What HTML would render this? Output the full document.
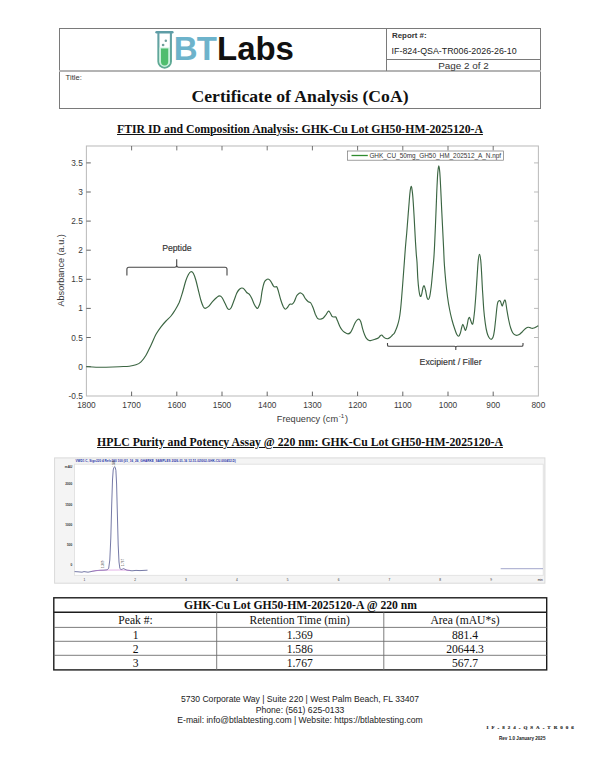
<!DOCTYPE html>
<html><head><meta charset="utf-8"><title>Certificate of Analysis</title>
<style>
html,body{margin:0;padding:0;background:#fff;}
body{width:600px;height:776px;position:relative;overflow:hidden;font-family:"Liberation Sans",sans-serif;color:#222;}
.abs{position:absolute;white-space:nowrap;}
.ln{position:absolute;background:#7a7a7a;}
.serif{font-family:"Liberation Serif",serif;}
.h2{font-family:"Liberation Serif",serif;font-weight:bold;font-size:11.75px;color:#111;text-decoration:underline;text-decoration-thickness:1px;text-underline-offset:1.2px;line-height:14px;}
svg text{font-family:"Liberation Sans",sans-serif;}
.tl{font-size:8.3px;fill:#3a3a3a;}
svg .tb text{font-family:"Liberation Serif",serif;}
</style></head><body>

<!-- header frame -->
<div class="ln" style="left:59px;top:28px;width:482px;height:1px;"></div>
<div class="ln" style="left:59px;top:108px;width:482px;height:1px;"></div>
<div class="ln" style="left:59px;top:28px;width:1px;height:81px;"></div>
<div class="ln" style="left:540px;top:28px;width:1px;height:81px;"></div>
<div class="ln" style="left:59px;top:70px;width:482px;height:2px;background:#b4b4b4;"></div>
<div class="ln" style="left:386px;top:28px;width:1px;height:43px;"></div>
<div class="ln" style="left:386px;top:59px;width:155px;height:1px;"></div>

<!-- logo -->
<svg class="abs" style="left:150px;top:27px;" width="32" height="46" viewBox="150 27 32 46">
  <defs><linearGradient id="tg" x1="0" y1="0" x2="0" y2="1"><stop offset="0" stop-color="#649fa8"/><stop offset="1" stop-color="#5eab92"/></linearGradient></defs>
  <path d="M158.4 33 V61.4 A6.25 6.25 0 0 0 170.9 61.4 V33" fill="#fff" stroke="url(#tg)" stroke-width="2.1"/>
  <path d="M159.4 47.6 H169.9 V61.4 A5.25 5.25 0 0 1 159.4 61.4 Z" fill="#c9f2dc"/>
  <path d="M161 48.6 H168.2 V61.8 A3.6 3.6 0 0 1 161 61.8 Z" fill="#4fbd6e"/>
  <rect x="155.3" y="31" width="18.3" height="2.5" rx="1.25" fill="#5e9da6"/>
  <circle cx="165.8" cy="40.8" r="1.25" fill="#6f9f9a"/>
  <circle cx="163.1" cy="45" r="1.35" fill="#6f9f9a"/>
</svg>
<div class="abs" id="bt" style="left:173.8px;top:30.6px;font-weight:bold;font-size:33px;line-height:36px;color:#6db3cb;letter-spacing:-0.8px;">BT</div>
<div class="abs" id="labs" style="left:217.1px;top:30.6px;font-weight:bold;font-size:33px;line-height:36px;color:#111;letter-spacing:-0.1px;">Labs</div>

<!-- header text -->
<div class="abs" id="rep" style="left:392px;top:30.7px;font-weight:bold;font-size:7.9px;line-height:9px;color:#333;">Report #:</div>
<div class="abs" id="repno" style="left:391.6px;top:46.2px;font-size:8.87px;line-height:10px;color:#222;">IF-824-QSA-TR006-2026-26-10</div>
<div class="abs" id="pg" style="left:387px;width:153px;text-align:center;top:60.1px;font-size:9.9px;line-height:11px;color:#333;">Page 2 of 2</div>
<div class="abs" id="ttl" style="left:65.6px;top:72.5px;font-size:7.6px;line-height:9px;color:#333;">Title:</div>
<div class="abs serif" id="coa" style="left:0;width:600px;text-align:center;top:85.9px;font-weight:bold;font-size:17.65px;line-height:20px;color:#111;">Certificate of Analysis (CoA)</div>

<!-- section headings -->
<div class="abs h2" id="h1" style="left:0;width:600px;text-align:center;top:122.8px;">FTIR ID and Composition Analysis: GHK-Cu Lot GH50-HM-2025120-A</div>
<div class="abs h2" id="h2" style="left:0;width:600px;text-align:center;top:435.8px;">HPLC Purity and Potency Assay @ 220 nm: GHK-Cu Lot GH50-HM-2025120-A</div>

<!-- charts -->
<svg class="abs" style="left:0;top:0;" width="600" height="776" viewBox="0 0 600 776">
  <!-- FTIR frame -->
  <rect x="86.4" y="146.0" width="452.0" height="250.0" fill="none" stroke="#bcbcbc" stroke-width="1.05"/>
  <line x1="131.6" y1="396.0" x2="131.6" y2="391.6" stroke="#4a4a4a" stroke-width="0.85"/><line x1="131.6" y1="146.0" x2="131.6" y2="150.4" stroke="#5a5a5a" stroke-width="0.85"/><line x1="176.8" y1="396.0" x2="176.8" y2="391.6" stroke="#4a4a4a" stroke-width="0.85"/><line x1="176.8" y1="146.0" x2="176.8" y2="150.4" stroke="#5a5a5a" stroke-width="0.85"/><line x1="222.0" y1="396.0" x2="222.0" y2="391.6" stroke="#4a4a4a" stroke-width="0.85"/><line x1="222.0" y1="146.0" x2="222.0" y2="150.4" stroke="#5a5a5a" stroke-width="0.85"/><line x1="267.2" y1="396.0" x2="267.2" y2="391.6" stroke="#4a4a4a" stroke-width="0.85"/><line x1="267.2" y1="146.0" x2="267.2" y2="150.4" stroke="#5a5a5a" stroke-width="0.85"/><line x1="312.4" y1="396.0" x2="312.4" y2="391.6" stroke="#4a4a4a" stroke-width="0.85"/><line x1="312.4" y1="146.0" x2="312.4" y2="150.4" stroke="#5a5a5a" stroke-width="0.85"/><line x1="357.6" y1="396.0" x2="357.6" y2="391.6" stroke="#4a4a4a" stroke-width="0.85"/><line x1="357.6" y1="146.0" x2="357.6" y2="150.4" stroke="#5a5a5a" stroke-width="0.85"/><line x1="402.8" y1="396.0" x2="402.8" y2="391.6" stroke="#4a4a4a" stroke-width="0.85"/><line x1="402.8" y1="146.0" x2="402.8" y2="150.4" stroke="#5a5a5a" stroke-width="0.85"/><line x1="448.0" y1="396.0" x2="448.0" y2="391.6" stroke="#4a4a4a" stroke-width="0.85"/><line x1="448.0" y1="146.0" x2="448.0" y2="150.4" stroke="#5a5a5a" stroke-width="0.85"/><line x1="493.2" y1="396.0" x2="493.2" y2="391.6" stroke="#4a4a4a" stroke-width="0.85"/><line x1="493.2" y1="146.0" x2="493.2" y2="150.4" stroke="#5a5a5a" stroke-width="0.85"/><line x1="86.4" y1="366.6" x2="90.80000000000001" y2="366.6" stroke="#4a4a4a" stroke-width="0.85"/><line x1="538.4" y1="366.6" x2="534.0" y2="366.6" stroke="#b0b0b0" stroke-width="0.85"/><line x1="86.4" y1="337.5" x2="90.80000000000001" y2="337.5" stroke="#4a4a4a" stroke-width="0.85"/><line x1="538.4" y1="337.5" x2="534.0" y2="337.5" stroke="#b0b0b0" stroke-width="0.85"/><line x1="86.4" y1="308.4" x2="90.80000000000001" y2="308.4" stroke="#4a4a4a" stroke-width="0.85"/><line x1="538.4" y1="308.4" x2="534.0" y2="308.4" stroke="#b0b0b0" stroke-width="0.85"/><line x1="86.4" y1="279.3" x2="90.80000000000001" y2="279.3" stroke="#4a4a4a" stroke-width="0.85"/><line x1="538.4" y1="279.3" x2="534.0" y2="279.3" stroke="#b0b0b0" stroke-width="0.85"/><line x1="86.4" y1="250.2" x2="90.80000000000001" y2="250.2" stroke="#4a4a4a" stroke-width="0.85"/><line x1="538.4" y1="250.2" x2="534.0" y2="250.2" stroke="#b0b0b0" stroke-width="0.85"/><line x1="86.4" y1="221.1" x2="90.80000000000001" y2="221.1" stroke="#4a4a4a" stroke-width="0.85"/><line x1="538.4" y1="221.1" x2="534.0" y2="221.1" stroke="#b0b0b0" stroke-width="0.85"/><line x1="86.4" y1="192.0" x2="90.80000000000001" y2="192.0" stroke="#4a4a4a" stroke-width="0.85"/><line x1="538.4" y1="192.0" x2="534.0" y2="192.0" stroke="#b0b0b0" stroke-width="0.85"/><line x1="86.4" y1="162.9" x2="90.80000000000001" y2="162.9" stroke="#4a4a4a" stroke-width="0.85"/><line x1="538.4" y1="162.9" x2="534.0" y2="162.9" stroke="#b0b0b0" stroke-width="0.85"/>
  <text x="82.8" y="398.7" text-anchor="end" class="tl">-0.5</text><text x="82.8" y="369.6" text-anchor="end" class="tl">0</text><text x="82.8" y="340.5" text-anchor="end" class="tl">0.5</text><text x="82.8" y="311.4" text-anchor="end" class="tl">1</text><text x="82.8" y="282.3" text-anchor="end" class="tl">1.5</text><text x="82.8" y="253.2" text-anchor="end" class="tl">2</text><text x="82.8" y="224.1" text-anchor="end" class="tl">2.5</text><text x="82.8" y="195.0" text-anchor="end" class="tl">3</text><text x="82.8" y="165.9" text-anchor="end" class="tl">3.5</text><text x="86.4" y="407.5" text-anchor="middle" class="tl">1800</text><text x="131.6" y="407.5" text-anchor="middle" class="tl">1700</text><text x="176.8" y="407.5" text-anchor="middle" class="tl">1600</text><text x="222.0" y="407.5" text-anchor="middle" class="tl">1500</text><text x="267.2" y="407.5" text-anchor="middle" class="tl">1400</text><text x="312.4" y="407.5" text-anchor="middle" class="tl">1300</text><text x="357.6" y="407.5" text-anchor="middle" class="tl">1200</text><text x="402.8" y="407.5" text-anchor="middle" class="tl">1100</text><text x="448.0" y="407.5" text-anchor="middle" class="tl">1000</text><text x="493.2" y="407.5" text-anchor="middle" class="tl">900</text><text x="538.4" y="407.5" text-anchor="middle" class="tl">800</text>
  <text transform="translate(63.8,270.4) rotate(-90)" text-anchor="middle" font-size="9.1" fill="#3a3a3a">Absorbance (a.u.)</text>
  <text x="276.8" y="422" font-size="9.2" fill="#3a3a3a">Frequency (cm<tspan dx="0.6" dy="-3.6" font-size="6.2">-1</tspan><tspan dx="0.7" dy="3.6">)</tspan></text>
  <!-- legend -->
  <rect x="347.4" y="151" width="156" height="9.2" fill="#fff" stroke="#777" stroke-width="0.7"/>
  <line x1="351.5" y1="155.5" x2="367.8" y2="155.5" stroke="#2e8b2e" stroke-width="1.3"/>
  <text x="369.4" y="157.8" font-size="6.42" fill="#333">GHK_CU_50mg_GH50_HM_202512_A_N.npf</text>
  <!-- curve -->
  <path d="M86.4 366.6C88.0 366.7 92.7 367.1 96.0 367.2C99.3 367.3 102.1 367.3 106.0 367.2C109.9 367.1 115.4 366.9 119.3 366.7C123.2 366.5 126.5 366.5 129.3 366.2C132.1 365.9 134.1 365.5 136.0 364.8C137.9 364.1 139.3 363.4 141.0 361.8C142.7 360.2 144.3 358.0 146.0 355.2C147.7 352.4 149.3 348.7 151.0 345.2C152.7 341.7 154.3 337.4 156.0 334.3C157.7 331.2 159.3 329.0 161.0 326.8C162.7 324.6 164.3 322.8 166.0 321.0C167.7 319.2 169.5 317.8 171.0 316.0C172.5 314.2 173.6 312.4 175.0 310.2C176.4 307.9 177.9 305.4 179.2 302.5C180.4 299.6 181.4 296.1 182.5 292.5C183.6 288.9 184.8 283.8 185.8 280.8C186.8 277.8 187.5 276.2 188.3 274.7C189.1 273.2 190.0 271.9 190.8 271.7C191.6 271.5 192.5 271.9 193.3 273.3C194.1 274.7 195.0 277.2 195.8 280.0C196.6 282.8 197.5 286.7 198.3 290.0C199.1 293.3 200.0 297.2 200.8 300.0C201.6 302.8 202.6 305.3 203.3 306.7C204.1 308.1 204.5 308.3 205.3 308.3C206.1 308.3 207.1 307.8 208.3 306.7C209.5 305.6 211.1 303.2 212.5 301.7C213.9 300.2 215.5 298.5 216.7 297.5C217.9 296.5 218.6 295.8 219.5 295.8C220.4 295.8 221.1 296.2 222.0 297.5C222.9 298.8 224.1 301.5 225.0 303.3C225.9 305.1 226.8 307.3 227.5 308.3C228.2 309.3 228.6 309.6 229.2 309.5C229.8 309.4 230.5 309.1 231.3 307.5C232.1 305.9 233.3 302.4 234.2 300.0C235.1 297.6 235.9 295.1 236.7 293.3C237.5 291.6 238.4 290.4 239.2 289.5C240.0 288.6 240.9 288.1 241.7 288.0C242.5 287.9 243.4 288.4 244.2 289.2C245.0 289.9 245.9 291.7 246.7 292.5C247.5 293.3 248.4 293.2 249.2 294.2C250.0 295.2 250.9 296.6 251.7 298.3C252.5 300.0 253.4 302.6 254.2 304.2C255.0 305.8 256.0 307.4 256.7 308.0C257.4 308.6 257.7 308.6 258.3 307.5C258.9 306.4 259.9 304.3 260.5 301.7C261.1 299.1 261.4 294.9 262.0 291.7C262.6 288.5 263.4 284.5 264.2 282.5C265.0 280.5 265.9 280.1 266.7 279.5C267.4 278.9 268.0 278.9 268.7 279.2C269.4 279.5 270.0 280.2 270.8 281.3C271.6 282.4 272.6 284.9 273.3 285.8C274.0 286.8 274.4 286.9 275.0 287.0C275.6 287.1 276.1 286.1 276.7 286.7C277.2 287.3 277.6 288.6 278.3 290.8C279.0 293.0 280.0 297.4 280.8 300.0C281.6 302.6 282.6 305.2 283.3 306.7C284.1 308.2 284.6 309.1 285.3 309.2C286.0 309.3 286.8 308.3 287.5 307.5C288.2 306.7 288.9 304.8 289.7 304.2C290.4 303.6 291.2 304.6 292.0 304.2C292.8 303.8 293.4 303.1 294.2 301.7C295.0 300.3 295.9 297.2 296.7 295.8C297.5 294.4 298.5 293.8 299.2 293.3C299.9 292.8 300.2 292.8 300.8 293.0C301.4 293.2 302.2 293.7 303.0 294.7C303.8 295.7 304.9 298.0 305.8 299.2C306.7 300.4 307.5 301.1 308.3 301.7C309.1 302.3 310.0 302.0 310.8 303.0C311.6 304.0 312.2 305.6 313.0 307.5C313.8 309.4 314.6 312.4 315.3 314.2C316.1 316.0 316.7 317.5 317.5 318.3C318.3 319.1 319.1 319.2 320.0 319.2C320.9 319.2 322.0 319.0 323.0 318.3C324.0 317.6 324.9 316.2 325.8 315.0C326.7 313.8 327.6 311.6 328.3 311.2C329.0 310.8 329.4 311.6 330.0 312.5C330.6 313.4 331.3 315.6 332.0 316.3C332.7 317.1 333.6 316.9 334.2 317.0C334.8 317.1 335.2 316.4 335.8 317.0C336.4 317.6 336.8 319.2 337.5 320.8C338.2 322.4 339.2 325.1 340.0 326.7C340.8 328.3 341.7 329.5 342.5 330.5C343.3 331.5 344.1 331.9 345.0 332.5C345.9 333.1 347.1 333.8 348.0 333.8C348.9 333.8 349.8 333.3 350.5 332.5C351.2 331.7 351.8 330.4 352.5 328.8C353.2 327.2 354.2 324.5 355.0 323.0C355.8 321.5 356.8 320.2 357.5 319.6C358.2 319.0 358.6 318.9 359.2 319.2C359.8 319.5 360.2 320.2 360.8 321.7C361.4 323.2 361.9 326.1 362.5 328.3C363.1 330.5 364.0 333.3 364.7 335.0C365.4 336.7 365.9 337.8 366.7 338.7C367.4 339.6 368.4 340.2 369.2 340.5C370.0 340.8 370.7 340.5 371.7 340.3C372.7 340.1 373.9 339.6 375.0 339.2C376.1 338.8 377.4 338.6 378.3 338.0C379.2 337.4 379.7 336.3 380.3 335.8C380.9 335.3 381.2 334.9 381.7 335.0C382.2 335.1 382.7 336.1 383.3 336.7C383.9 337.2 384.6 338.0 385.3 338.3C386.0 338.6 386.7 338.8 387.5 338.7C388.3 338.6 389.2 338.1 390.0 337.5C390.8 336.9 391.8 335.7 392.5 335.0C393.2 334.3 393.6 334.2 394.2 333.4C394.8 332.6 395.2 331.3 395.8 330.0C396.4 328.7 396.9 327.4 397.5 325.5C398.1 323.6 398.8 321.1 399.3 318.5C399.8 315.9 400.1 313.6 400.5 310.0C400.9 306.4 401.3 301.7 401.7 296.7C402.1 291.7 402.6 285.4 403.0 280.0C403.4 274.6 403.8 269.2 404.2 264.0C404.6 258.8 404.9 254.1 405.3 249.0C405.7 243.9 406.2 238.7 406.7 233.3C407.1 227.9 407.6 222.0 408.0 216.7C408.4 211.4 408.9 205.7 409.2 201.7C409.5 197.7 409.7 195.1 410.0 192.5C410.3 189.9 410.8 186.4 411.2 186.3C411.6 186.2 411.9 188.9 412.3 191.7C412.7 194.5 413.0 198.6 413.3 203.3C413.6 208.0 414.0 214.4 414.3 220.0C414.6 225.6 414.9 231.5 415.2 237.0C415.5 242.5 415.9 248.8 416.2 253.0C416.5 257.2 416.7 257.8 417.0 262.0C417.3 266.2 417.5 273.6 417.8 278.3C418.1 283.0 418.5 287.0 418.9 290.0C419.3 293.0 419.8 295.6 420.3 296.3C420.8 297.0 421.2 295.7 421.7 294.2C422.1 292.7 422.6 288.9 423.0 287.5C423.4 286.1 423.8 285.4 424.2 285.8C424.6 286.2 425.0 288.1 425.5 290.0C426.0 291.9 426.5 295.9 427.0 297.5C427.5 299.1 427.9 299.6 428.3 299.5C428.8 299.4 429.2 298.8 429.7 296.7C430.2 294.6 430.7 290.6 431.2 286.7C431.7 282.8 432.1 277.8 432.5 273.3C432.9 268.9 433.3 264.7 433.7 260.0C434.1 255.3 434.3 250.6 434.6 245.0C434.9 239.4 435.1 233.1 435.4 226.7C435.7 220.3 435.9 213.4 436.2 206.7C436.5 200.0 436.7 192.4 437.0 186.7C437.3 181.0 437.5 176.0 437.8 172.5C438.1 169.0 438.5 165.8 438.8 165.8C439.1 165.8 439.5 168.8 439.8 172.5C440.1 176.2 440.4 182.1 440.7 188.3C441.0 194.6 441.4 203.1 441.7 210.0C442.0 216.9 442.4 223.7 442.7 230.0C443.0 236.3 443.3 242.2 443.6 248.0C443.9 253.8 444.0 259.4 444.4 265.0C444.8 270.6 445.3 276.4 445.8 281.7C446.3 287.0 446.9 292.0 447.5 296.7C448.1 301.4 448.9 306.1 449.7 310.0C450.4 313.9 451.2 316.9 452.0 320.0C452.8 323.1 453.7 325.9 454.5 328.3C455.3 330.7 456.0 332.9 456.7 334.2C457.4 335.5 458.1 336.3 458.7 336.2C459.3 336.1 459.8 334.8 460.3 333.3C460.8 331.9 461.3 329.0 461.7 327.5C462.1 326.0 462.4 324.2 462.8 324.2C463.2 324.2 463.8 326.5 464.2 327.5C464.6 328.5 465.0 330.6 465.5 330.3C466.0 330.0 466.5 327.7 467.0 325.8C467.5 323.9 467.9 320.6 468.3 319.2C468.7 317.8 469.1 317.2 469.5 317.5C469.9 317.8 470.4 319.7 470.8 320.8C471.2 321.9 471.8 324.1 472.2 324.2C472.6 324.3 472.9 324.1 473.3 321.7C473.7 319.3 474.2 314.7 474.7 310.0C475.1 305.3 475.6 299.1 476.0 293.3C476.4 287.5 476.8 280.6 477.2 275.0C477.6 269.4 477.9 263.5 478.3 260.0C478.7 256.5 479.1 254.2 479.5 254.2C479.9 254.2 480.3 256.5 480.7 260.0C481.1 263.5 481.4 269.4 481.7 275.0C482.0 280.6 482.3 287.5 482.7 293.3C483.1 299.1 483.4 305.0 483.8 310.0C484.2 315.0 484.8 319.6 485.3 323.3C485.8 327.1 486.4 330.2 487.0 332.5C487.6 334.8 488.1 335.9 488.7 337.0C489.3 338.1 490.2 339.2 490.9 339.3C491.6 339.4 492.4 338.7 493.0 337.3C493.6 335.9 494.0 333.6 494.4 330.7C494.8 327.8 495.2 323.6 495.6 320.0C496.0 316.4 496.4 312.2 496.7 309.3C497.0 306.4 497.3 304.1 497.7 302.7C498.1 301.3 498.6 300.9 499.0 300.7C499.4 300.5 500.0 300.6 500.4 301.3C500.8 302.0 501.3 303.9 501.6 304.7C501.9 305.5 502.1 306.2 502.4 306.0C502.7 305.8 502.9 304.3 503.3 303.3C503.7 302.3 504.3 300.2 504.7 300.0C505.1 299.8 505.3 300.2 505.7 302.0C506.1 303.8 506.5 307.7 507.0 310.7C507.5 313.7 508.1 317.1 508.7 320.0C509.3 322.9 510.0 325.9 510.7 328.0C511.4 330.1 511.9 331.5 512.7 332.7C513.5 333.9 514.5 334.6 515.3 335.0C516.1 335.4 516.5 335.5 517.3 335.3C518.1 335.1 519.1 334.7 520.0 334.0C520.9 333.3 521.8 332.2 522.7 331.3C523.6 330.4 524.4 329.4 525.3 328.7C526.2 328.0 527.2 327.5 528.0 327.3C528.8 327.1 529.3 327.4 530.0 327.6C530.7 327.8 531.3 328.2 532.0 328.3C532.7 328.4 533.3 328.2 534.0 328.0C534.7 327.8 535.3 327.4 536.0 327.0C536.7 326.6 537.9 325.9 538.3 325.7" fill="none" stroke="#3b6542" stroke-width="1.15" stroke-linejoin="round"/>
  <!-- peptide brace -->
  <path d="M126.9 275.5 V269.3 Q126.9 267.3 128.9 267.3 H174.9 Q176.7 267.3 176.7 265.3 V259.3 M176.7 265.3 Q176.7 267.3 178.5 267.3 H225 Q227 267.3 227 269.3 V275.5" fill="none" stroke="#444" stroke-width="1.1"/>
  <text x="176.9" y="251" text-anchor="middle" font-size="8.7" fill="#333" stroke="#333" stroke-width="0.15">Peptide</text>
  <!-- excipient brace -->
  <path d="M387.5 343 V345 Q387.5 346.3 388.8 346.3 H454.5 Q455.8 346.3 455.8 347.6 V350 M455.8 347.6 Q455.8 346.3 457.1 346.3 H521.7 Q523 346.3 523 345 V343" fill="none" stroke="#444" stroke-width="1.1"/>
  <text x="450.6" y="365" text-anchor="middle" font-size="8.8" fill="#333" stroke="#333" stroke-width="0.15">Excipient / Filler</text>

  <!-- HPLC -->
  <rect x="54.6" y="457.9" width="490.3" height="125.3" fill="#f4f4f4" stroke="#d9d9d9" stroke-width="1"/>
  <rect x="74.4" y="464.2" width="468.8" height="111.1" fill="#fff" stroke="#dedede" stroke-width="0.8"/>
  <text x="75.4" y="462.3" font-size="3.1" font-weight="bold" fill="#2530a8" textLength="160.5" lengthAdjust="spacingAndGlyphs">VWD1 C, Sig=220 4 Ref=360 100 (01_16_26_GHARKE_SAMPLES 2026-01-16 12-51-02\002-GHK-CU-000452.D)</text>
  <text x="84.3" y="580.6" text-anchor="middle" font-size="3.2" fill="#333">1</text><text x="135.2" y="580.6" text-anchor="middle" font-size="3.2" fill="#333">2</text><text x="186.0" y="580.6" text-anchor="middle" font-size="3.2" fill="#333">3</text><text x="236.9" y="580.6" text-anchor="middle" font-size="3.2" fill="#333">4</text><text x="287.7" y="580.6" text-anchor="middle" font-size="3.2" fill="#333">5</text><text x="338.6" y="580.6" text-anchor="middle" font-size="3.2" fill="#333">6</text><text x="389.4" y="580.6" text-anchor="middle" font-size="3.2" fill="#333">7</text><text x="440.2" y="580.6" text-anchor="middle" font-size="3.2" fill="#333">8</text><text x="491.1" y="580.6" text-anchor="middle" font-size="3.2" fill="#333">9</text><text x="72.3" y="467.5" text-anchor="end" font-size="3.2" font-weight="bold" fill="#333">mAU</text><text x="72.3" y="485.3" text-anchor="end" font-size="3.2" font-weight="bold" fill="#333">2000</text><text x="72.3" y="505.5" text-anchor="end" font-size="3.2" font-weight="bold" fill="#333">1500</text><text x="72.3" y="525.7" text-anchor="end" font-size="3.2" font-weight="bold" fill="#333">1000</text><text x="72.3" y="545.9" text-anchor="end" font-size="3.2" font-weight="bold" fill="#333">500</text><text x="72.3" y="566.3" text-anchor="end" font-size="3.2" font-weight="bold" fill="#333">0</text>
  <text x="540.3" y="580.6" text-anchor="middle" font-size="3.2" fill="#222">min</text>
  <path d="M74.6 571.6 L78 571.8 L82 572.2 L84 571.6 L88 572.2 L92 571.4 L96 570.6 L100 570.3 L104 570.2 L107.3 569.8 L108.7 568.2 L109.8 560 L110.8 538 L111.7 505 L112.5 480 L113.2 470 L113.9 467.4 L114.6 467 L115.3 467.5 L115.9 470.5 L116.6 484 L117.4 515 L118.2 545 L119 562 L119.9 568.6 L121 569.6 L122.3 569.2 L123.4 568.6 L125 569.3 L127 570.2 L132 570.8 L136 570.4 L140 570.6 L147.5 570.2" fill="none" stroke="#3a3f80" stroke-width="0.7"/>
  <path d="M91.5 571.2 L100 570.3 L108.5 570.1 L120 570 L130 570.3" fill="none" stroke="#d07ad6" stroke-width="0.55"/>
  <line x1="500.7" y1="568.7" x2="543" y2="568.7" stroke="#7a7fb5" stroke-width="0.7"/>
  <text transform="translate(103.6,568) rotate(-90)" font-size="3" fill="#333">1.369</text>
  <text transform="translate(123.8,566.3) rotate(-90)" font-size="3" fill="#333">1.767</text>
  <text transform="translate(115.3,467) rotate(-90)" font-size="2.6" fill="#333">1.586</text>
</svg>

<!-- results table -->
<svg class="abs" style="left:0;top:590px;" width="600" height="90" viewBox="0 590 600 90">
  <g class="tb" font-size="11.6" fill="#111" text-anchor="middle">
    <rect x="53.8" y="597.8" width="492.9" height="72.1" fill="#fff" stroke="#1c1c1c" stroke-width="1.4"/>
    <line x1="53.8" y1="612.3" x2="546.7" y2="612.3" stroke="#1c1c1c" stroke-width="1.4"/>
    <line x1="53.8" y1="627.4" x2="546.7" y2="627.4" stroke="#6e6e6e" stroke-width="0.9"/>
    <line x1="53.8" y1="641.3" x2="546.7" y2="641.3" stroke="#6e6e6e" stroke-width="0.9"/>
    <line x1="53.8" y1="655.3" x2="546.7" y2="655.3" stroke="#6e6e6e" stroke-width="0.9"/>
    <line x1="216.7" y1="612.3" x2="216.7" y2="669.9" stroke="#6e6e6e" stroke-width="0.9"/>
    <line x1="383.8" y1="612.3" x2="383.8" y2="669.9" stroke="#6e6e6e" stroke-width="0.9"/>
    <text x="300.6" y="609.4" font-weight="bold" font-size="11.68">GHK-Cu Lot GH50-HM-2025120-A @ 220 nm</text>
    <text x="135.6" y="624.1">Peak #:</text><text x="299.7" y="624.1">Retention Time (min)</text><text x="465" y="624.1">Area (mAU*s)</text>
    <text x="135.6" y="638.6">1</text><text x="299.7" y="638.6">1.369</text><text x="465" y="638.6">881.4</text>
    <text x="135.6" y="652.7">2</text><text x="299.7" y="652.7">1.586</text><text x="465" y="652.7">20644.3</text>
    <text x="135.6" y="666.9">3</text><text x="299.7" y="666.9">1.767</text><text x="465" y="666.9">567.7</text>
  </g>
</svg>

<!-- footer -->
<div class="abs" id="f1" style="left:0;width:600px;text-align:center;top:694.0px;font-size:8.6px;line-height:10px;color:#222;">5730 Corporate Way | Suite 220 | West Palm Beach, FL 33407</div>
<div class="abs" id="f2" style="left:0;width:600px;text-align:center;top:704.5px;font-size:8.6px;line-height:10px;color:#222;">Phone: (561) 625-0133</div>
<div class="abs" id="f3" style="left:0;width:600px;text-align:center;top:715.0px;font-size:8.6px;line-height:10px;color:#222;">E-mail: info@btlabtesting.com | Website: https://btlabtesting.com</div>
<div class="abs serif" id="f4" style="left:486.6px;top:724.6px;font-weight:bold;font-size:5px;line-height:6px;letter-spacing:3.0px;color:#222;-webkit-text-stroke:0.15px #222;">IF-824-QSA-TR006</div>
<div class="abs" id="f5" style="left:499px;top:736.1px;font-weight:bold;font-size:4.6px;line-height:6px;color:#222;">Rev 1.0 January 2025</div>
</body></html>
